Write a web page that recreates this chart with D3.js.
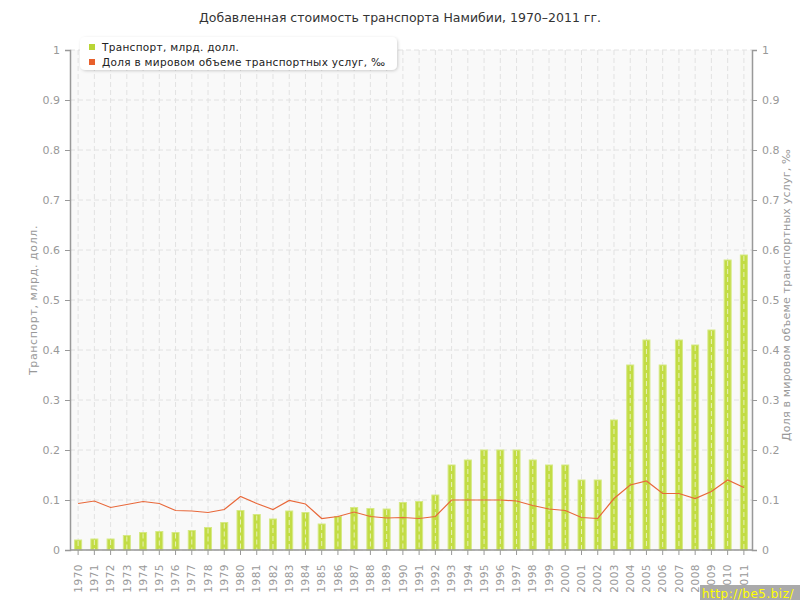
<!DOCTYPE html>
<html><head><meta charset="utf-8">
<script src="https://cdn.jsdelivr.net/npm/d3@7"></script>
<style>body{margin:0;background:#fff}svg{display:block}</style>
</head><body>
<script>
const years = d3.range(1970, 2012).map(String);
const transport = [0.020,0.022,0.022,0.029,0.035,0.037,0.035,0.039,0.045,0.055,
  0.079,0.071,0.062,0.078,0.075,0.052,0.067,0.085,0.083,0.082,
  0.095,0.097,0.110,0.170,0.180,0.200,0.200,0.200,0.180,0.170,
  0.170,0.140,0.140,0.260,0.370,0.420,0.370,0.420,0.410,0.440,
  0.580,0.590];
const share = [0.093,0.098,0.085,0.091,0.097,0.093,0.079,0.078,0.075,0.081,
  0.107,0.093,0.081,0.099,0.092,0.063,0.067,0.076,0.067,0.064,
  0.065,0.063,0.067,0.100,0.100,0.100,0.100,0.098,0.089,0.082,
  0.079,0.065,0.063,0.103,0.130,0.138,0.113,0.113,0.103,0.117,
  0.140,0.125];
const yTicks = [0,0.1,0.2,0.3,0.4,0.5,0.6,0.7,0.8,0.9,1];
const title = "Добавленная стоимость транспорта Намибии, 1970–2011 гг.";
const leftTitle = "Транспорт, млрд. долл.";
const rightTitle = "Доля в мировом объеме транспортных услуг, ‰";
const legendItems = [leftTitle, rightTitle];

const W = 800, H = 600;
const m = {l:70, r:48, t:50, b:50};
const svg = d3.select("body").append("svg").attr("width", W).attr("height", H);
const font = "DejaVu Sans, Verdana, sans-serif";

const x = d3.scaleBand().domain(years).range([m.l, W - m.r]);
const yL = d3.scaleLinear().domain([0,1]).range([H - m.b, m.t]);
const yR = d3.scaleLinear().domain([0,1]).range([H - m.b, m.t]);

svg.append("rect").attr("x", m.l).attr("y", m.t).attr("width", W - m.l - m.r).attr("height", H - m.t - m.b).attr("fill", "#f9f9f9");

svg.append("g").selectAll("line").data(yTicks).join("line")
  .attr("x1", m.l).attr("x2", W - m.r).attr("y1", d => yL(d)).attr("y2", d => yL(d))
  .attr("stroke", "#e2e2e2").attr("stroke-dasharray", "5,3");
svg.append("g").selectAll("line").data(years).join("line")
  .attr("x1", d => x(d) + x.bandwidth()/2).attr("x2", d => x(d) + x.bandwidth()/2)
  .attr("y1", m.t).attr("y2", H - m.b)
  .attr("stroke", "#e2e2e2").attr("stroke-dasharray", "5,3");

const bw = 7;
svg.append("g").selectAll("rect").data(transport).join("rect")
  .attr("x", (d,i) => x(years[i]) + x.bandwidth()/2 - bw/2)
  .attr("width", bw)
  .attr("y", d => yL(d)).attr("height", d => yL(0) - yL(d))
  .attr("fill", "#c2dc44").attr("stroke", "#d6e985").attr("stroke-width", 1);
svg.append("g").selectAll("line").data(transport).join("line")
  .attr("x1", (d,i) => x(years[i]) + x.bandwidth()/2).attr("x2", (d,i) => x(years[i]) + x.bandwidth()/2)
  .attr("y1", d => yL(d) + 1).attr("y2", H - m.b)
  .attr("stroke", "#f2f8d8").attr("stroke-dasharray", "5,3").attr("stroke-opacity", 0.8);

svg.append("path").datum(share)
  .attr("d", d3.line().x((d,i) => x(years[i]) + x.bandwidth()/2).y(d => yR(d)))
  .attr("fill", "none").attr("stroke", "#e8683a").attr("stroke-width", 1.2);

const axL = svg.append("g").attr("transform", `translate(${m.l},0)`)
  .call(d3.axisLeft(yL).tickValues(yTicks).tickFormat(d3.format("~g")).tickSize(5).tickPadding(5));
const axR = svg.append("g").attr("transform", `translate(${W - m.r},0)`)
  .call(d3.axisRight(yR).tickValues(yTicks).tickFormat(d3.format("~g")).tickSize(5).tickPadding(5));
const axB = svg.append("g").attr("transform", `translate(0,${H - m.b})`)
  .call(d3.axisBottom(x).tickSize(5).tickPadding(0));
[axL, axR, axB].forEach(a => {
  a.selectAll("path.domain").attr("stroke", "#999").attr("stroke-width", 1.5);
  a.selectAll(".tick line").attr("stroke", "#999");
  a.selectAll("text").attr("fill", "#999").attr("font-family", font).attr("font-size", 11);
});
axB.select("path.domain").attr("d", `M${m.l},0H${W - m.r}`);
axB.selectAll("text")
  .attr("transform", "rotate(-90)")
  .attr("text-anchor", "end").attr("dy", "0.35em").attr("x", -14).attr("y", 0)
  .attr("letter-spacing", "0.5px").attr("font-size", 10.5);

svg.append("text").attr("x", 400).attr("y", 22).attr("text-anchor", "middle")
  .attr("font-family", font).attr("font-size", 12.5).attr("fill", "#333").text(title);
svg.append("text").attr("transform", `translate(37,300) rotate(-90)`).attr("text-anchor", "middle")
  .attr("font-family", font).attr("font-size", 11).attr("fill", "#999").attr("letter-spacing", "0.6px").text(leftTitle);
svg.append("text").attr("transform", `translate(790,295) rotate(-90)`).attr("text-anchor", "middle")
  .attr("font-family", font).attr("font-size", 11).attr("fill", "#999").attr("letter-spacing", "0.2px").text(rightTitle);

const defs = svg.append("defs");
const f = defs.append("filter").attr("id", "sh").attr("x", "-10%").attr("y", "-30%").attr("width", "120%").attr("height", "160%");
f.append("feDropShadow").attr("dx", 1).attr("dy", 1).attr("stdDeviation", 1.5).attr("flood-color", "#000").attr("flood-opacity", 0.18);
svg.append("rect").attr("x", 80).attr("y", 37).attr("width", 317).attr("height", 33).attr("rx", 5)
  .attr("fill", "#fff").attr("filter", "url(#sh)");
const legColors = ["#b9d535", "#e8602c"];
const lg = svg.append("g").selectAll("g").data(legendItems).join("g")
  .attr("transform", (d,i) => `translate(89,${44 + i*15})`);
lg.append("rect").attr("width", 6).attr("height", 6).attr("fill", (d,i) => legColors[i]);
lg.append("text").attr("x", 13).attr("y", 7).attr("font-family", font).attr("font-size", 10.5)
  .attr("fill", "#222").attr("letter-spacing", "0.3px").text(d => d);

svg.append("rect").attr("x", 700).attr("y", 585).attr("width", 100).attr("height", 15).attr("fill", "#aaa");
svg.append("text").attr("x", 702).attr("y", 598).attr("font-family", font).attr("font-size", 12)
  .attr("fill", "#ffff00").attr("letter-spacing", "0.5px").text("http://be5.biz/");
</script>
</body></html>
